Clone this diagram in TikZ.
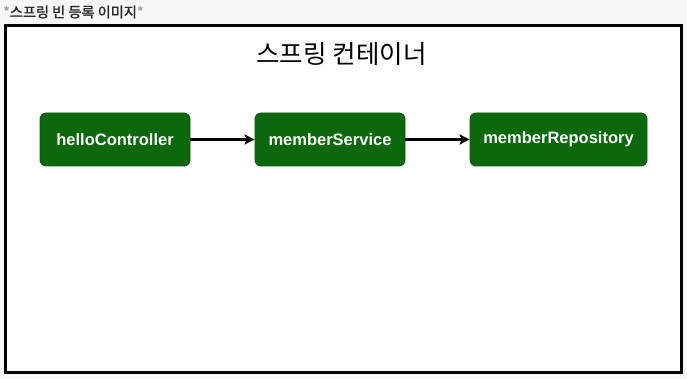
\documentclass[tikz,border=0pt]{standalone}
\usepackage{fontspec}
\setmainfont{Liberation Sans}
\newfontfamily\kofont{Noto Sans CJK KR}
\newfontfamily\kobold{Noto Sans CJK KR}[FakeBold=1.5]
\usetikzlibrary{arrows.meta}
\definecolor{beangreen}{RGB}{12,104,12}
\definecolor{pagebg}{RGB}{247,247,247}
\definecolor{labelgray}{RGB}{40,40,40}
\begin{document}
\begin{tikzpicture}[x=1pt,y=-1pt,
  bean/.style={draw=beangreen!85!black, fill=beangreen, rounded corners=6pt,
    minimum height=53pt, text=white, font=\fontsize{16.5}{18}\selectfont\bfseries,
    inner sep=0pt, line width=0.8pt},
  link/.style={draw=black, line width=2.4pt, -{Stealth[length=10pt,width=10pt,inset=2pt]}}]
\useasboundingbox (0,0) rectangle (687,379);
\fill[pagebg] (0,0) rectangle (687,379);
\draw[fill=white, line width=3pt] (5.5,26) rectangle (681.5,372.5);
\node[anchor=west, inner sep=0pt] (cap) at (3,12) {\kobold\fontsize{14.2}{16}\selectfont\textcolor{gray!70}{*}\textcolor{labelgray}{스프링 빈 등록 이미지}\textcolor{gray!70}{*}};
\node[inner sep=0pt] (title) at (341.5,54) {\kofont\fontsize{25.5}{28}\selectfont 스프링 컨테이너};
\node[bean, minimum width=150pt] (hc) at (115,139.5) {helloController};
\node[bean, minimum width=150pt] (ms) at (330,139.5) {memberService};
\node[bean, minimum width=177pt] (mr) at (558.5,139.5) {memberRepository};
\draw[link] (hc.east) -- (ms.west);
\draw[link] (ms.east) -- (mr.west);
\end{tikzpicture}
\end{document}
